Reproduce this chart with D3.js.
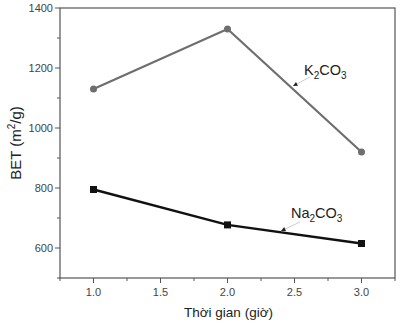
<!DOCTYPE html>
<html><head><meta charset="utf-8">
<script src="https://cdn.jsdelivr.net/npm/d3@7"></script>
<style>body{margin:0;background:#fff}svg{display:block;font-family:"Liberation Sans",Arial,sans-serif}</style>
</head><body>
<svg id="c" width="400" height="326"></svg>
<script>
const times = [1.0, 2.0, 3.0];
const k2co3 = [1130, 1330, 920];
const na2co3 = [795, 677, 615];
const xTicks = [1.0, 1.5, 2.0, 2.5, 3.0];
const yTicks = [600, 800, 1000, 1200, 1400];

const svg = d3.select("#c");
const L = 60, R = 395, T = 8, B = 278;
const x = d3.scaleLinear().domain([0.75, 3.25]).range([L, R]);
const y = d3.scaleLinear().domain([500, 1400]).range([B, T]);
const axisCol = "#555";
const textCol = "#444";

// frame
svg.append("rect").attr("x", L).attr("y", T).attr("width", R - L).attr("height", B - T)
  .attr("fill", "none").attr("stroke", axisCol).attr("stroke-width", 1.2);

// y axis ticks
const yMinor = d3.range(500, 1401, 100).filter(v => !yTicks.includes(v));
yMinor.forEach(v => svg.append("line").attr("x1", L - 3).attr("x2", L).attr("y1", y(v)).attr("y2", y(v)).attr("stroke", axisCol));
yTicks.forEach(v => {
  svg.append("line").attr("x1", L - 5).attr("x2", L).attr("y1", y(v)).attr("y2", y(v)).attr("stroke", axisCol);
  svg.append("text").attr("x", L - 7).attr("y", y(v) + 4).attr("text-anchor", "end")
    .attr("font-size", 11).attr("fill", textCol).text(v);
});
// x axis ticks
const xMinor = [0.75, 1.25, 1.75, 2.25, 2.75, 3.25];
xMinor.forEach(v => svg.append("line").attr("x1", x(v)).attr("x2", x(v)).attr("y1", B).attr("y2", B + 3).attr("stroke", axisCol));
xTicks.forEach(v => {
  svg.append("line").attr("x1", x(v)).attr("x2", x(v)).attr("y1", B).attr("y2", B + 5).attr("stroke", axisCol);
  svg.append("text").attr("x", x(v)).attr("y", B + 18).attr("text-anchor", "middle")
    .attr("font-size", 11).attr("fill", textCol).text(v.toFixed(1));
});

// axis titles
svg.append("text").attr("x", (L + R) / 2 + 1).attr("y", 317).attr("text-anchor", "middle")
  .attr("font-size", 13.5).attr("fill", "#222").text("Thời gian (giờ)");
const yt = svg.append("text").attr("transform", `translate(21,${(T + B) / 2}) rotate(-90)`)
  .attr("text-anchor", "middle").attr("font-size", 15).attr("fill", "#222");
yt.append("tspan").text("BET (m");
yt.append("tspan").attr("font-size", 10).attr("dy", -6).text("2");
yt.append("tspan").attr("dy", 6).text("/g)");

const line = d3.line().x((d, i) => x(times[i])).y(d => y(d));

// K2CO3
svg.append("path").datum(k2co3).attr("d", line).attr("fill", "none").attr("stroke", "#6e6e6e").attr("stroke-width", 2.2);
svg.selectAll(".kc").data(k2co3).enter().append("circle")
  .attr("cx", (d, i) => x(times[i])).attr("cy", d => y(d)).attr("r", 3.5).attr("fill", "#6e6e6e");

// Na2CO3
svg.append("path").datum(na2co3).attr("d", line).attr("fill", "none").attr("stroke", "#111").attr("stroke-width", 2.4);
svg.selectAll(".ns").data(na2co3).enter().append("rect")
  .attr("x", (d, i) => x(times[i]) - 3.5).attr("y", d => y(d) - 3.5).attr("width", 7).attr("height", 7).attr("fill", "#111");

// labels with pointers
function label(tx, ty, base, ax1, ay1, ax2, ay2) {
  const t = svg.append("text").attr("x", tx).attr("y", ty).attr("font-size", 14.5).attr("fill", "#222");
  t.append("tspan").text(base);
  t.append("tspan").attr("font-size", 10).attr("dy", 4).text("2");
  t.append("tspan").attr("dy", -4).text("CO");
  t.append("tspan").attr("font-size", 10).attr("dy", 4).text("3");
  svg.append("line").attr("x1", ax1).attr("y1", ay1).attr("x2", ax2).attr("y2", ay2).attr("stroke", "#ccc").attr("stroke-width", 1);
  const ang = Math.atan2(ay2 - ay1, ax2 - ax1);
  const s = 5;
  const p = [[ax2, ay2],
    [ax2 - s * Math.cos(ang - 0.45), ay2 - s * Math.sin(ang - 0.45)],
    [ax2 - s * Math.cos(ang + 0.45), ay2 - s * Math.sin(ang + 0.45)]];
  svg.append("polygon").attr("points", p.map(q => q.join(",")).join(" ")).attr("fill", "#222");
}
label(304, 75, "K", 310, 77, 293, 86);
label(291, 218, "Na", 300, 222, 281, 231);
</script>
</body></html>
